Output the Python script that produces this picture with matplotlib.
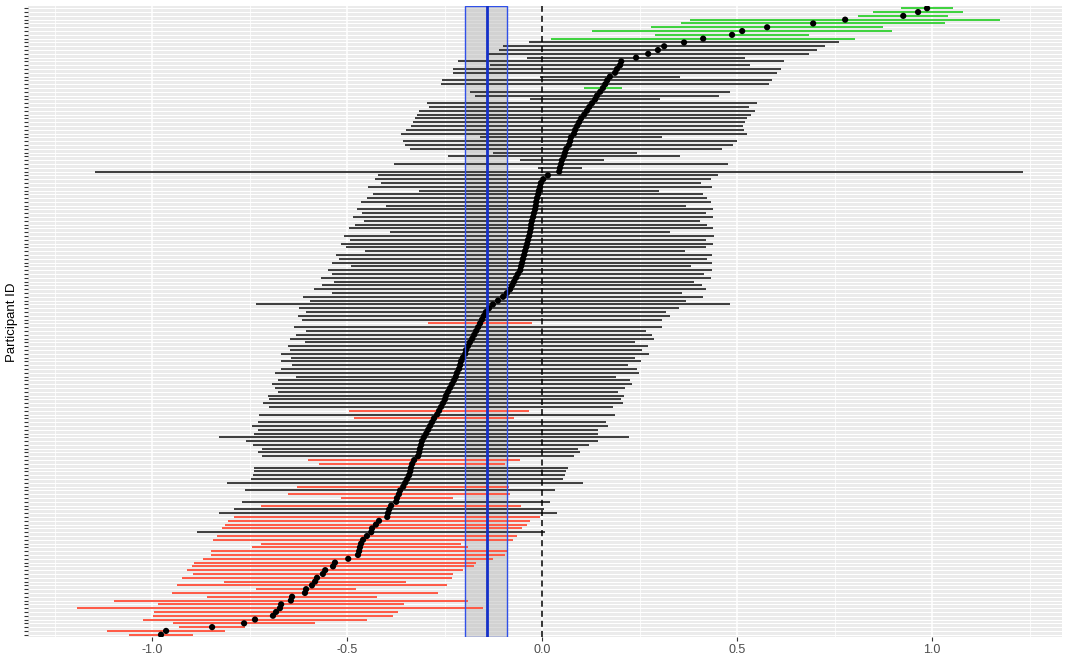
import matplotlib
matplotlib.use("Agg")
import matplotlib.pyplot as plt
import numpy as np

# Per-participant effect estimates, ordered from highest (top row) to lowest
estimate = [
    0.987, 0.964, 0.926, 0.777, 0.695, 0.577, 0.513, 0.487, 0.413,
    0.364, 0.313, 0.297, 0.272, 0.241, 0.203, 0.200, 0.192, 0.187, 0.174,
    0.167, 0.162, 0.156, 0.149, 0.141, 0.136, 0.128, 0.121, 0.115, 0.108,
    0.100, 0.095, 0.090, 0.085, 0.082, 0.074, 0.072, 0.069, 0.062, 0.059,
    0.056, 0.051, 0.049, 0.046, 0.044,
    0.015, 0.003, -0.003, -0.005, -0.008, -0.010, -0.013, -0.015, -0.016,
    -0.018, -0.021, -0.023, -0.026, -0.028, -0.029, -0.031, -0.033, -0.036,
    -0.038, -0.041, -0.044, -0.046, -0.049, -0.051, -0.054, -0.056, -0.062,
    -0.067, -0.072, -0.077, -0.082, -0.090, -0.100, -0.113, -0.126, -0.136,
    -0.144, -0.149, -0.154, -0.159, -0.164, -0.169, -0.174, -0.179, -0.185,
    -0.190, -0.195, -0.197, -0.203, -0.208, -0.210, -0.213, -0.218, -0.221,
    -0.226, -0.231, -0.236, -0.241, -0.246, -0.249, -0.254, -0.259, -0.264,
    -0.269, -0.277, -0.282, -0.287, -0.292, -0.297, -0.303, -0.308, -0.310,
    -0.313, -0.315, -0.318, -0.328, -0.333, -0.336, -0.338, -0.341, -0.346,
    -0.351, -0.356, -0.364, -0.367, -0.372, -0.374, -0.387, -0.392, -0.395,
    -0.397, -0.418, -0.426, -0.436, -0.438, -0.449, -0.459, -0.464, -0.467,
    -0.469, -0.472, -0.497, -0.531, -0.536, -0.556, -0.562, -0.577, -0.582,
    -0.590, -0.605, -0.608, -0.641, -0.644, -0.669, -0.672, -0.682, -0.690,
    -0.736, -0.764, -0.846, -0.964, -0.977,
]

# Half-width of each participant's interval (symmetric around the estimate)
half_width = [
    0.067, 0.115, 0.115, 0.397, 0.338, 0.297, 0.385, 0.197, 0.390,
    0.397, 0.413, 0.408, 0.413, 0.279, 0.418, 0.333, 0.421, 0.415, 0.180,
    0.423, 0.421, 0.049, 0.333, 0.313, 0.167, 0.423, 0.410, 0.431, 0.428,
    0.426, 0.426, 0.426, 0.433, 0.444, 0.233, 0.428, 0.421, 0.400, 0.185,
    0.297, 0.108, 0.428, 0.056, 1.190,
    0.436, 0.431, 0.410, 0.441, 0.308, 0.423, 0.436, 0.449, 0.385,
    0.456, 0.441, 0.462, 0.431, 0.451, 0.467, 0.359, 0.474, 0.456,
    0.477, 0.462, 0.410, 0.482, 0.472, 0.487, 0.436, 0.492, 0.477,
    0.500, 0.462, 0.487, 0.503, 0.449, 0.513, 0.482, 0.608, 0.487,
    0.462, 0.477, 0.462, 0.133, 0.472, 0.436, 0.456, 0.467, 0.423,
    0.462, 0.451, 0.472, 0.441, 0.462, 0.431, 0.456, 0.467, 0.410,
    0.451, 0.462, 0.449, 0.436, 0.456, 0.451, 0.462, 0.441, 0.231,
    0.456, 0.205, 0.446, 0.456, 0.436, 0.441, 0.526, 0.451, 0.431,
    0.405, 0.413, 0.400, 0.272, 0.238, 0.403, 0.400, 0.400, 0.400,
    0.456, 0.272, 0.397, 0.285, 0.144, 0.395, 0.333, 0.397, 0.433,
    0.392, 0.387, 0.387, 0.385, 0.446, 0.385, 0.385, 0.256, 0.277,
    0.379, 0.377, 0.372, 0.362, 0.362, 0.354, 0.333, 0.346, 0.233,
    0.346, 0.128, 0.341, 0.218, 0.454, 0.315, 0.521, 0.313, 0.308,
    0.287, 0.182, 0.085, 0.151, 0.082,
]

# Pooled estimate with its interval
pooled_mean = -0.141
pooled_lower = -0.197
pooled_upper = -0.090

x_ticks = [-1.0, -0.5, 0.0, 0.5, 1.0]
x_tick_labels = ["-1.0", "-0.5", "0.0", "0.5", "1.0"]
x_minor = [-1.25, -0.75, -0.25, 0.25, 0.75, 1.25]

plt.rcParams["font.family"] = ["Liberation Sans", "DejaVu Sans"]

est = np.asarray(estimate)
hw = np.asarray(half_width)
lower = est - hw
upper = est + hw
n = len(est)
ypos = np.arange(n)[::-1]  # first participant drawn at the top

GREEN = "#3CD23C"
RED = "#FF5844"
DARK = "#3C3C3C"
colors = np.where(lower > 0, GREEN, np.where(upper < 0, RED, DARK))

W, H = 1065, 657
fig = plt.figure(figsize=(W / 100, H / 100), dpi=100)
ax = fig.add_axes([28 / W, 20 / H, 1034 / W, 631 / H])
ax.set_facecolor("#EBEBEB")
for s in ax.spines.values():
    s.set_visible(False)

ax.set_xlim(-1.318, 1.333)
ax.set_ylim(-0.6, n - 1 + 0.6)

ax.set_xticks(x_ticks)
ax.set_xticklabels(x_tick_labels)
ax.set_xticks(x_minor, minor=True)
ax.set_yticks(ypos)
ax.set_yticklabels([""] * n)

ax.grid(True, which="major", axis="x", color="white", lw=1.1, zorder=0)
ax.grid(True, which="minor", axis="x", color="white", lw=0.55, zorder=0)
ax.grid(True, which="major", axis="y", color="white", lw=0.75, zorder=0)
ax.set_axisbelow(True)

ax.tick_params(axis="x", which="major", length=3, width=0.8, color="#333333",
               labelsize=9, labelcolor="#4D4D4D", pad=2)
ax.tick_params(axis="x", which="minor", length=0)
ax.tick_params(axis="y", which="major", length=3, width=0.8, color="#333333", pad=1)

# Pooled interval band
ax.axvspan(pooled_lower, pooled_upper, facecolor="#BEBEBE", alpha=0.55,
           edgecolor="none", zorder=1)

# Participant intervals and estimates
ax.hlines(ypos, lower, upper, colors=colors, lw=1.4, zorder=3)
ax.scatter(est, ypos, s=20, color="black", edgecolors="none", zorder=4)

# Band outline and pooled mean
ax.axvspan(pooled_lower, pooled_upper, facecolor="none", edgecolor="#3050E8",
           lw=1.0, zorder=5)
ax.axvline(pooled_mean, color="#1530C8", lw=2.0, zorder=6)

# Reference line at zero
ax.axvline(0.0, color="black", lw=1.1, ls=(0, (4, 2.6)), zorder=6)

fig.text(12 / W, 1 - 322 / H, "Participant ID", rotation=90, ha="center",
         va="center", fontsize=9.5, color="black")

fig.savefig("out.png", dpi=100, facecolor="white")
